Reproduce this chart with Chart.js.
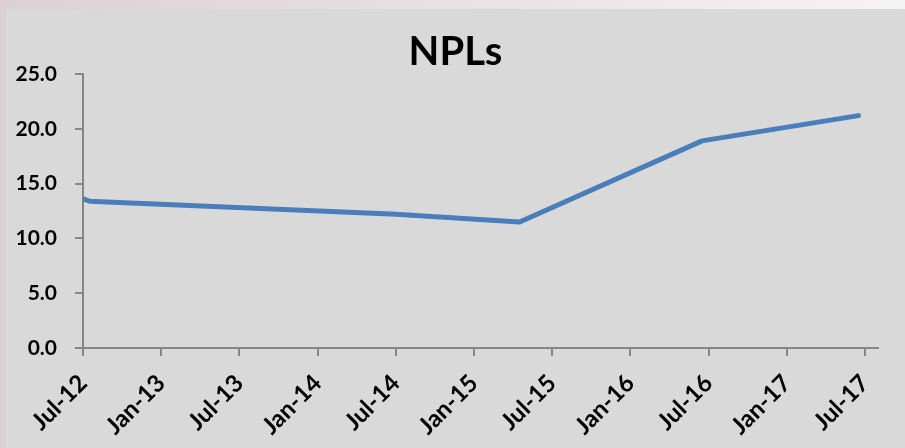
<!DOCTYPE html>
<html>
<head>
<meta charset="utf-8">
<script src="https://cdn.jsdelivr.net/npm/chart.js@4"></script>
<style>
  body { margin: 0; width: 905px; height: 448px; overflow: hidden;
         background: linear-gradient(to right, #ddd0d4, #e6dde0 40%, #f6f3f4); }
  #panel { position: absolute; left: 6px; top: 9px; width: 899px; height: 439px; background: #d9d9d9; }
</style>
</head>
<body>
<div id="panel"><canvas id="graph" width="899" height="439"></canvas></div>
<script>
// data
const pointDates = ['2012-07-01', '2012-07-16', '2014-07-01', '2015-04-16', '2016-06-16', '2017-06-16']
const nplValues = [13.6, 13.4, 12.2, 11.5, 18.9, 21.2]
const tickLabels = ['Jul-12', 'Jan-13', 'Jul-13', 'Jan-14', 'Jul-14', 'Jan-15', 'Jul-15', 'Jan-16', 'Jul-16', 'Jan-17', 'Jul-17']
const yTicks = [0, 5, 10, 15, 20, 25]

// months since Jul-12
function monthIndex(d){
    let [y, m, day] = d.split('-').map(Number)
    return (y - 2012) * 12 + (m - 7) + (day - 1) / 30
}

function buildPoints(){
    const points = []
    for(let i = 0; i < pointDates.length; i++){
        points.push({ x: monthIndex(pointDates[i]), y: nplValues[i] })
    }
    return points
}

const axisColor = '#868686'

function setGraph(){
    const ctx = document.getElementById('graph').getContext('2d')
    new Chart(ctx, {
        type: 'line',
        data: {
            datasets: [{
                label: 'NPLs',
                data: buildPoints(),
                borderColor: '#4a7ebb',
                borderWidth: 5,
                pointRadius: 0,
                tension: 0,
                borderCapStyle: 'round',
                borderJoinStyle: 'round'
            }]
        },
        options: {
            responsive: false,
            animation: false,
            layout: { padding: 0 },
            plugins: {
                legend: { display: false },
                tooltip: { enabled: false },
                title: {
                    display: true,
                    text: 'NPLs',
                    color: '#000',
                    font: { family: 'Lato', size: 40, weight: 'bold', lineHeight: 1.1 },
                    padding: { top: 21, bottom: 0 }
                }
            },
            scales: {
                x: {
                    type: 'linear',
                    min: 0,
                    max: 61,
                    afterBuildTicks: s => { s.ticks = tickLabels.map((l, i) => ({ value: i * 6 })) },
                    afterFit: s => { s.height = 100 },
                    ticks: {
                        color: '#000',
                        font: { family: 'Lato', size: 24, weight: 'bold' },
                        minRotation: 45,
                        maxRotation: 45,
                        padding: 13,
                        autoSkip: false,
                        callback: (v, i) => tickLabels[i]
                    },
                    grid: { drawOnChartArea: false, drawTicks: true, tickLength: 8, color: axisColor, lineWidth: 2 },
                    border: { display: true, color: axisColor, width: 2 }
                },
                y: {
                    min: 0,
                    max: 25,
                    afterBuildTicks: s => { s.ticks = yTicks.map(v => ({ value: v })) },
                    afterFit: s => { s.width = 77 },
                    ticks: {
                        color: '#000',
                        font: { family: 'Lato', size: 21, weight: 'bold' },
                        padding: 18,
                        callback: v => v.toFixed(1)
                    },
                    grid: { drawOnChartArea: false, drawTicks: true, tickLength: 8, color: axisColor, lineWidth: 2 },
                    border: { display: true, color: axisColor, width: 2 }
                },
                // empty right axis, only keeps space after the end of the x axis
                yRight: {
                    axis: 'y',
                    position: 'right',
                    min: 0,
                    max: 25,
                    afterFit: s => { s.width = 27 },
                    ticks: { display: false },
                    grid: { display: false },
                    border: { display: false }
                }
            }
        }
    })
}

setGraph()
</script>
</body>
</html>
